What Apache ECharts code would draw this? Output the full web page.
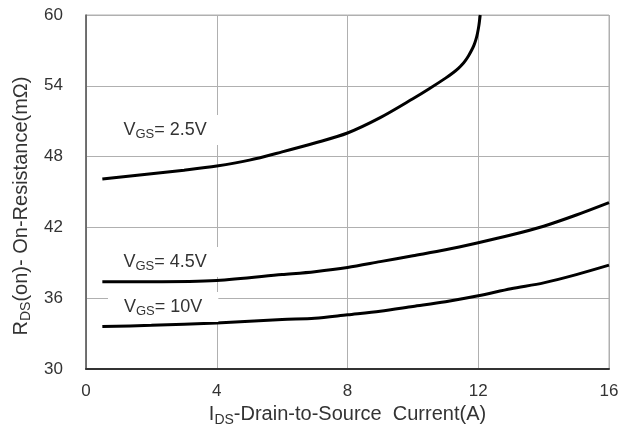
<!DOCTYPE html>
<html>
<head>
<meta charset="utf-8">
<script src="https://cdn.jsdelivr.net/npm/echarts@6/dist/echarts.min.js"></script>
<style>
  html, body { margin: 0; padding: 0; background: #fff; }
  #chart { width: 633px; height: 438px; }
</style>
</head>
<body>
<div id="chart"></div>
<script>
// curve values (x = IDS in A, y = RDS(on) in mOhm)
const vgs25 = [[0.5, 46.1], [1, 46.25], [2, 46.55], [3, 46.85], [4, 47.2], [5, 47.7], [6, 48.4], [7, 49.15], [8, 50.0],
  [9, 51.3], [10, 52.9], [10.5, 53.75], [11, 54.65], [11.25, 55.15], [11.4, 55.5], [11.5, 55.78], [11.6, 56.12],
  [11.7, 56.53], [11.8, 57.03], [11.87, 57.45], [11.93, 57.93], [11.98, 58.5], [12.02, 59.12], [12.06, 60]];
const vgs45 = [[0.5, 37.4], [2, 37.4], [4, 37.5], [6, 38.0], [7, 38.25], [8, 38.6], [9, 39.1], [10, 39.6], [11, 40.1],
  [12, 40.7], [13, 41.35], [14, 42.1], [15, 43.05], [16, 44.1]];
const vgs10 = [[0.5, 33.6], [2, 33.7], [4, 33.9], [6, 34.2], [7, 34.3], [8, 34.6], [9, 34.9], [10, 35.3], [11, 35.7],
  [12, 36.2], [13, 36.8], [14, 37.3], [15, 38.0], [16, 38.8]];
// where each VGS label sits, in data units
const labelPos25 = [2.42, 50.25];
const labelPos45 = [2.42, 39.07];
const labelPos10 = [2.36, 35.25];
const labelText = ['2.5V', '4.5V', '10V'];

const FONT = 'Liberation Sans, Arial, sans-serif';
const TXT = '#333';

function vgsLabel(coord, text) {
  return {
    symbol: 'rect',
    symbolSize: 0,
    data: [{ coord: coord }],
    label: {
      show: true,
      position: 'inside',
      formatter: '{v|V}{s|GS}{v|= ' + text + '}',
      backgroundColor: '#fff',
      padding: [4, 16],
      rich: {
        v: { fontFamily: FONT, fontSize: 18, color: TXT, lineHeight: 22 },
        s: { fontFamily: FONT, fontSize: 13, color: TXT, lineHeight: 22, verticalAlign: 'bottom', padding: [7, 0, 0, 0] }
      }
    }
  };
}

function curve(name, data, lbl) {
  return {
    name: name,
    type: 'line',
    data: data,
    smooth: 0.3,
    showSymbol: false,
    lineStyle: { color: '#000', width: 3 },
    markPoint: lbl,
    z: 3
  };
}

const nameRich = {
  n: { fontFamily: FONT, fontSize: 20, color: TXT, lineHeight: 24 },
  s: { fontFamily: FONT, fontSize: 14, color: TXT, lineHeight: 24, verticalAlign: 'bottom', padding: [8, 0, 0, 0] }
};

const chart = echarts.init(document.getElementById('chart'));
chart.setOption({
  animation: false,
  grid: { left: 86, right: 24, top: 15, bottom: 69, show: true, borderColor: '#b0b0b0', borderWidth: 1 },
  xAxis: {
    type: 'value', min: 0, max: 16, interval: 4,
    name: '{n|I}{s|DS}{n|-Drain-to-Source  Current(A)}',
    nameLocation: 'middle', nameGap: 33,
    nameTextStyle: { rich: nameRich },
    axisLine: { lineStyle: { color: '#333', width: 2 } },
    axisTick: { show: false },
    axisLabel: { fontFamily: FONT, fontSize: 17, color: TXT, margin: 14 },
    splitLine: { lineStyle: { color: '#b0b0b0', width: 1 } }
  },
  yAxis: {
    type: 'value', min: 30, max: 60, interval: 6,
    name: '{n|R}{s|DS}{n|(on)- On-Resistance(mΩ)}',
    nameLocation: 'middle', nameGap: 48, nameRotate: 90,
    nameTextStyle: { padding: [0, 28, 0, 0], rich: nameRich },
    axisLine: { show: true, lineStyle: { color: '#555', width: 1.5 } },
    axisTick: { show: false },
    axisLabel: { fontFamily: FONT, fontSize: 17, color: TXT, margin: 23 },
    splitLine: { lineStyle: { color: '#b0b0b0', width: 1 } }
  },
  series: [
    curve('VGS=2.5V', vgs25, vgsLabel(labelPos25, labelText[0])),
    curve('VGS=4.5V', vgs45, vgsLabel(labelPos45, labelText[1])),
    curve('VGS=10V', vgs10, vgsLabel(labelPos10, labelText[2]))
  ]
});
</script>
</body>
</html>
